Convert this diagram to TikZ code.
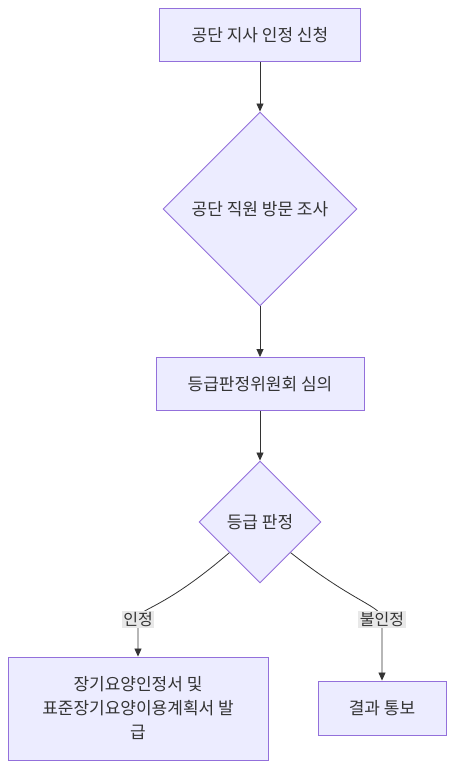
\documentclass[tikz,border=0pt]{standalone}
\usepackage{fontspec}
\setmainfont{Noto Sans CJK KR}
\usetikzlibrary{shapes.geometric,arrows.meta}

\definecolor{boxfill}{HTML}{ECECFF}
\definecolor{boxline}{HTML}{9370DB}
\definecolor{inkgray}{HTML}{333333}
\definecolor{labelbg}{HTML}{E8E8E8}

\begin{document}
\begin{tikzpicture}[x=1pt, y=1pt,
    box/.style={draw=boxline, fill=boxfill, line width=0.9pt, text=inkgray,
        inner sep=0pt, align=center, font=\fontsize{17}{24}\selectfont},
    decision/.style={box, diamond, aspect=1},
    flow/.style={draw=inkgray, line width=0.8pt, -{Triangle[length=8pt,width=7pt]}},
    edgelab/.style={fill=labelbg, text=inkgray, inner sep=1.5pt,
        font=\fontsize{16}{18}\selectfont}]

    % ==========================================
    % CANVAS: fix the page to the reference size
    % ==========================================
    \useasboundingbox (0,0) rectangle (454,-768);

    % ==========================================
    % NODES: steps of the procedure
    % ==========================================
    \node[box, minimum width=201, minimum height=53] (apply) at (260,-35) {공단 지사 인정 신청};
    \node[decision, minimum width=194, minimum height=194] (visit) at (260,-209) {공단 직원 방문 조사};
    \node[box, minimum width=208, minimum height=53] (review) at (260,-384) {등급판정위원회 심의};
    \node[decision, minimum width=122, minimum height=122] (judge) at (260,-522) {등급 판정};

    % Outcomes
    \node[box, minimum width=260, minimum height=103] (issue) at (138,-708.5)
        {장기요양인정서 및\\표준장기요양이용계획서 발\\급};
    \node[box, minimum width=128, minimum height=54] (notify) at (382,-708) {결과 통보};

    % ==========================================
    % EDGES
    % ==========================================
    \draw[flow] (apply) -- (visit);
    \draw[flow] (visit) -- (review);
    \draw[flow] (review) -- (judge);

    % Branches with labels
    \draw[flow] (judge.south west) .. controls +(-70,-60) and +(0,12) ..
        ([yshift=37]issue.north) node[edgelab] {인정} -- (issue.north);
    \draw[flow] (judge.south east) .. controls +(66,-52) and +(0,14) ..
        ([yshift=61]notify.north) node[edgelab] {불인정}
        .. controls +(0,-10) and +(0,20) .. (notify.north);

\end{tikzpicture}
\end{document}
